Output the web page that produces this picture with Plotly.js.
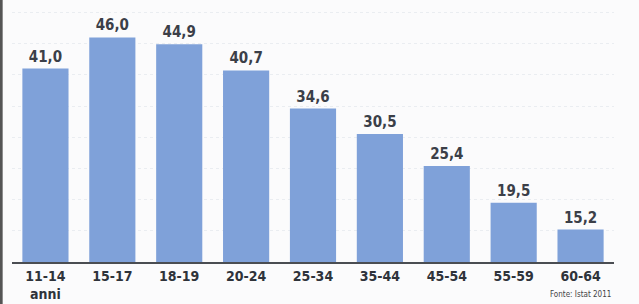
<!DOCTYPE html>
<html>
<head>
<meta charset="utf-8">
<script src="https://cdn.plot.ly/plotly-3.0.1.min.js"></script>
<style>
html,body{margin:0;padding:0;background:#fbfbfc;}
#chart{width:639px;height:304px;}
</style>
</head>
<body>
<div id="chart"></div>
<script>
const categories = ["11-14<br>anni", "15-17", "18-19", "20-24", "25-34", "35-44", "45-54", "55-59", "60-64"];
const values = [41.0, 46.0, 44.9, 40.7, 34.6, 30.5, 25.4, 19.5, 15.2];
const valueLabels = values.map(v => v.toFixed(1).replace('.', ','));
const sourceNote = "Fonte: Istat 2011";

const font = "'Liberation Sans Narrow', 'DejaVu Sans Condensed', 'Liberation Sans', sans-serif";

const trace = {
  type: 'bar',
  x: categories,
  y: values,
  text: valueLabels,
  textposition: 'outside',
  cliponaxis: false,
  textfont: {family: font, size: 15, color: '#3b3f48', weight: 'bold'},
  marker: {color: '#7fa1d9', line: {width: 0}},
  width: 0.69,
  hoverinfo: 'none'
};

const layout = {
  width: 639, height: 304,
  margin: {l: 12, r: 25, t: 0, b: 42},
  paper_bgcolor: '#fbfbfc',
  plot_bgcolor: '#fbfbfc',
  showlegend: false,
  xaxis: {
    type: 'category',
    range: [-0.5, 8.5],
    showline: true, linecolor: '#4a4d52', linewidth: 2,
    ticks: '', showgrid: false,
    tickfont: {family: font, size: 14, color: '#2f333a', weight: 'bold'},
    fixedrange: true
  },
  yaxis: {
    range: [10, 52],
    showticklabels: false, ticks: '',
    showgrid: true, gridcolor: '#eaedf1', griddash: 'dot', gridwidth: 1,
    dtick: 5, tick0: 0,
    zeroline: false, showline: false,
    fixedrange: true
  },
  shapes: [
    {type: 'line', xref: 'paper', yref: 'paper', x0: -0.018, x1: -0.018, y0: -0.2, y1: 1.05,
     line: {color: '#555', width: 3}}
  ],
  annotations: [
    {xref: 'paper', yref: 'paper', x: 0.945, y: -0.1, xanchor: 'center', yanchor: 'top',
     text: sourceNote, showarrow: false,
     font: {family: font, size: 8, color: '#444'}}
  ]
};

Plotly.newPlot('chart', [trace], layout, {staticPlot: true, displayModeBar: false});
</script>
</body>
</html>
